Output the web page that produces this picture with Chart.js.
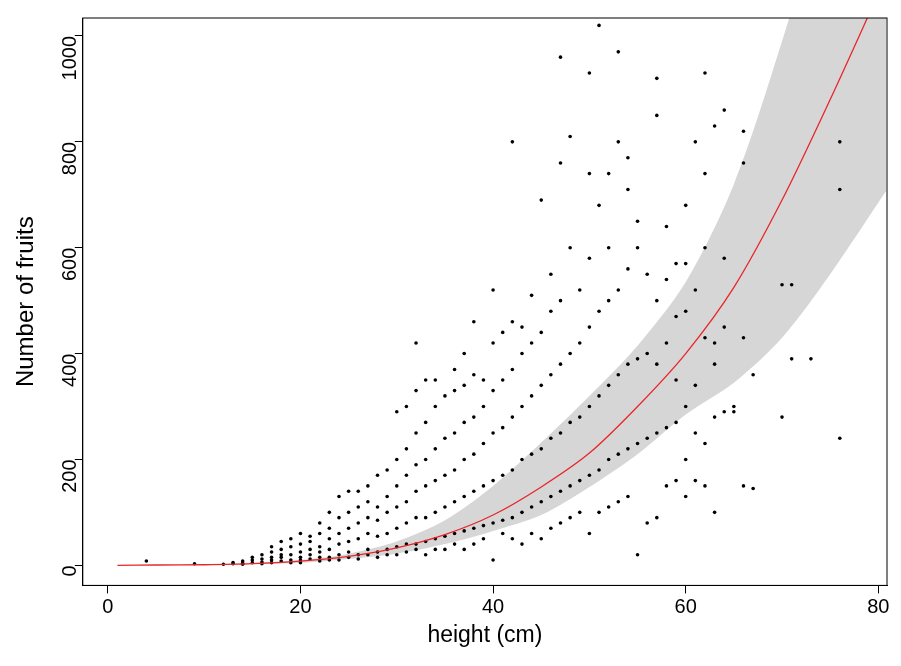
<!DOCTYPE html>
<html>
<head>
<meta charset="utf-8">
<script src="https://cdn.jsdelivr.net/npm/chart.js@4/dist/chart.umd.min.js"></script>
<style>
  html, body { margin: 0; padding: 0; background: #fff; }
  #wrap { width: 901px; height: 666px; }
</style>
</head>
<body>
<div id="wrap"><canvas id="c"></canvas></div>
<script>
// observations (height in cm, number of fruits), read column by column
const heights = [];
const fruits = [];
const columns = [
  [4, [8]], [9, [3]], [12, [2]], [13, [3, 5]], [14, [4, 8, 2]], [15, [5, 10, 15]],
  [16, [6, 12, 20, 3]], [17, [5, 10, 25, 35, 15]], [18, [8, 15, 30, 45, 20]],
  [19, [10, 20, 35, 50, 5]], [20, [10, 25, 40, 60, 15, 5]], [21, [12, 30, 45, 55, 20]],
  [22, [15, 35, 60, 80, 25, 8]], [23, [15, 30, 50, 70, 100, 10]], [24, [20, 40, 60, 90, 130, 10]],
  [25, [25, 45, 70, 100, 140, 15]], [26, [20, 50, 80, 110, 140, 12]], [27, [30, 60, 90, 120, 150, 20]],
  [28, [25, 55, 85, 110, 170, 15]], [29, [30, 60, 100, 130, 180, 20]], [30, [35, 70, 110, 150, 200, 290, 20]],
  [31, [40, 80, 120, 170, 220, 300, 25]], [32, [40, 90, 140, 190, 250, 330, 420, 30]],
  [33, [45, 90, 150, 200, 270, 350, 20]], [34, [50, 100, 160, 220, 300, 350, 30]],
  [35, [55, 110, 170, 240, 320, 30]], [36, [60, 120, 180, 250, 330, 370, 40]],
  [37, [65, 130, 200, 270, 340, 400, 30]], [38, [70, 140, 210, 280, 360, 460, 40]],
  [39, [75, 150, 230, 300, 350, 50]], [40, [80, 160, 250, 330, 420, 520, 10]],
  [41, [85, 170, 260, 350, 440, 60]], [42, [90, 180, 280, 370, 460, 800, 50]],
  [43, [100, 200, 300, 400, 450, 40]], [44, [110, 210, 320, 420, 510, 60]],
  [45, [120, 220, 340, 440, 690, 50]], [46, [130, 240, 360, 480, 550, 70]],
  [47, [140, 250, 380, 500, 760, 960, 80]], [48, [150, 270, 400, 600, 810, 90]],
  [49, [160, 280, 420, 520, 100]], [50, [170, 300, 450, 580, 740, 930, 60]],
  [51, [180, 320, 480, 680, 1020, 100]], [52, [200, 340, 500, 600, 740, 110]],
  [53, [210, 360, 520, 800, 970, 120]], [54, [220, 380, 560, 710, 770, 130]],
  [55, [230, 390, 600, 650, 20]], [56, [240, 400, 550, 80]], [57, [250, 380, 500, 850, 920, 90]],
  [58, [260, 420, 540, 640, 150]], [59, [270, 350, 470, 570, 160]],
  [60, [200, 300, 480, 570, 680, 130]], [61, [250, 340, 520, 800, 160]],
  [62, [230, 430, 600, 740, 930, 150]], [63, [100, 280, 380, 420, 830]],
  [64, [290, 450, 860, 580]], [65, [300, 290]], [66, [150, 430, 760, 820]],
  [67, [145, 360]], [70, [280, 530]], [71, [390, 530]], [73, [390]], [76, [240, 710, 800]]
];
columns.forEach(([h, vals]) => vals.forEach(v => { heights.push(h); fruits.push(v); }));

// fitted curve and confidence band
const fitX = [1, 5, 10, 15, 20, 25, 30, 35, 40, 45, 50, 55, 60, 65, 70, 75, 80, 81];
const fitY = [0, 0.5, 1, 3, 8, 17, 33, 58, 95, 148, 212, 300, 400, 525, 690, 880, 1080, 1120];
const bandX = [1, 10, 20, 25, 30, 35, 40, 45, 50, 55, 60, 65, 70, 75, 80.8];
const bandLow = [0, 1, 5, 12, 22, 40, 65, 95, 148, 210, 285, 345, 430, 550, 707];
const bandHigh = [0, 1, 10, 22, 45, 85, 150, 232, 320, 415, 535, 720, 990, 1300, 1700];

const boxPlugin = {
  id: 'box',
  afterDraw(chart) {
    const a = chart.chartArea, ctx = chart.ctx;
    ctx.save();
    ctx.strokeStyle = '#000';
    ctx.lineWidth = 1;
    ctx.strokeRect(a.left, a.top, a.right - a.left, a.bottom - a.top);
    ctx.restore();
  }
};

const font = { family: '"Liberation Sans", Arial, sans-serif', size: 20 };

new Chart(document.getElementById('c'), {
  type: 'scatter',
  data: {
    datasets: [
      {
        data: bandX.map((x, i) => ({ x, y: bandHigh[i] })),
        showLine: true, pointRadius: 0, borderWidth: 0, tension: 0.3,
        backgroundColor: 'rgb(214,214,214)', fill: '+1', order: 3
      },
      {
        data: bandX.map((x, i) => ({ x, y: bandLow[i] })),
        showLine: true, pointRadius: 0, borderWidth: 0, tension: 0.3, order: 3
      },
      {
        data: heights.map((x, i) => ({ x, y: fruits[i] })),
        pointRadius: 1.8, backgroundColor: '#000', borderWidth: 0, order: 2
      },
      {
        data: fitX.map((x, i) => ({ x, y: fitY[i] })),
        showLine: true, pointRadius: 0, borderColor: '#e8262a', borderWidth: 1.3,
        tension: 0.3, order: 1
      }
    ]
  },
  options: {
    responsive: true,
    maintainAspectRatio: false,
    animation: false,
    layout: { padding: { top: 18, right: 14, left: 12, bottom: 17 } },
    plugins: { legend: { display: false }, tooltip: { enabled: false } },
    scales: {
      x: {
        min: -2.6, max: 80.9,
        afterBuildTicks: s => { s.ticks = [0, 20, 40, 60, 80].map(v => ({ value: v })); },
        grid: { drawOnChartArea: false, color: '#000', tickLength: 8 },
        border: { color: '#000' },
        ticks: { color: '#000', font, padding: 2, maxRotation: 0 },
        title: { display: true, text: 'height (cm)', color: '#000', font: { ...font, size: 23 }, padding: { top: 0, bottom: 0 } }
      },
      y: {
        min: -38, max: 1034,
        afterBuildTicks: s => { s.ticks = [0, 200, 400, 600, 800, 1000].map(v => ({ value: v })); },
        grid: { drawOnChartArea: false, color: '#000', tickLength: 8 },
        border: { color: '#000' },
        ticks: { color: '#000', font, padding: 4, minRotation: 90, maxRotation: 90, callback: v => String(v) },
        title: { display: true, text: 'Number of fruits', color: '#000', font: { ...font, size: 24 }, padding: { top: 0, bottom: 2 } }
      }
    }
  },
  plugins: [boxPlugin]
});
</script>
</body>
</html>
